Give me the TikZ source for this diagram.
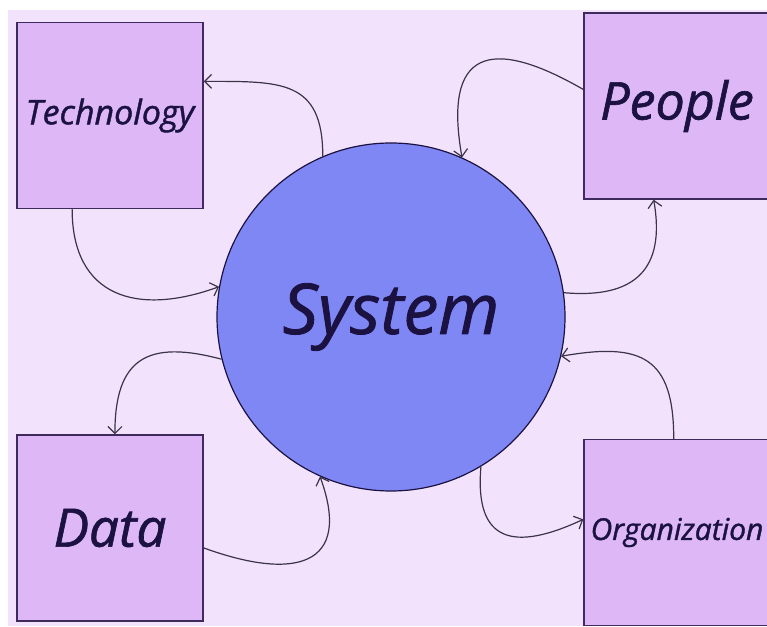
\documentclass[tikz,border=0pt]{standalone}
\usepackage{fontspec}
\setmainfont{Open Sans}[ItalicFeatures={FakeBold=1.2}]
\usetikzlibrary{arrows.meta}
\definecolor{paper}{HTML}{F3E2FB}
\definecolor{lilac}{HTML}{DEB8F6}
\definecolor{periwinkle}{HTML}{7F87F4}
\definecolor{ink}{HTML}{1B1242}
\definecolor{rim}{HTML}{3E2A5C}
\definecolor{wire}{HTML}{3A3446}
\begin{document}
\begin{tikzpicture}[x=1pt,y=1pt,
    box/.style={draw=rim,line width=1.4pt,fill=lilac,rectangle,
      minimum width=186pt,minimum height=186pt,inner sep=0pt,text=ink},
    hub/.style={draw=ink,line width=1.2pt,fill=periwinkle,circle,
      minimum size=348pt,inner sep=0pt,text=ink},
    link/.style={draw=wire,line width=1.2pt,-{Straight Barb[length=7pt,width=14pt]}}]
  \useasboundingbox (0,0) rectangle (767,626);
  \clip (0,0) rectangle (767,626);
  \fill[paper] (8,0) rectangle (767,616);
  \node[hub,font=\fontsize{70}{76}\selectfont\itshape] (system) at (391,309) {System};
  \node[box,font=\fontsize{34}{40}\selectfont\itshape] (technology) at (110,510.5) {Technology};
  \node[box,font=\fontsize{52}{58}\selectfont\itshape] (people) at (677,520) {People};
  \node[box,font=\fontsize{53}{58}\selectfont\itshape] (data) at (110,98) {Data};
  \node[box,font=\fontsize{30}{34}\selectfont\itshape] (organization) at (677,93.5) {Organization};
  \begin{scope}[link]
    \draw (system.113) to[out=90,in=0,looseness=1.4] (technology.20);
    \draw (technology.248) to[out=270,in=200,looseness=1.35] (system.170);
    \draw (people.170) to[out=150,in=100,looseness=2] (system.66);
    \draw (system.8) to[out=-5,in=280,looseness=1.4] (people.256);
    \draw (organization.92) to[out=90,in=10,looseness=1.5] (system.-13);
    \draw (system.-59) to[out=265,in=205,looseness=1.7] (organization.172);
    \draw (system.194) to[out=165,in=90,looseness=1.5] (data.87);
    \draw (data.-12) to[out=-20,in=290,looseness=1.8] (system.246);
  \end{scope}
\end{tikzpicture}
\end{document}
